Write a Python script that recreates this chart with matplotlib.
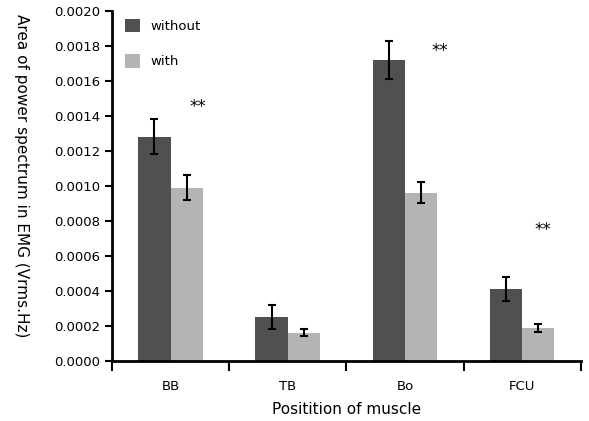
import matplotlib
matplotlib.use("Agg")
import matplotlib.pyplot as plt
import numpy as np

categories = ["BB", "TB", "Bo", "FCU"]
without_vals = [0.00128, 0.00025, 0.00172, 0.00041]
without_err = [0.00010, 0.00007, 0.00011, 0.00007]
with_vals = [0.00099, 0.00016, 0.00096, 0.00019]
with_err = [0.00007, 0.00002, 0.00006, 0.000023]
star_labels = ["**", "", "**", "**"]
star_y = [0.00145, None, 0.00177, 0.00075]
star_dx = [0.23, 0, 0.30, 0.18]
yticks = [0.0, 0.0002, 0.0004, 0.0006, 0.0008, 0.0010, 0.0012, 0.0014, 0.0016, 0.0018, 0.0020]

plt.rcParams['font.family'] = ['DejaVu Sans']
fig = plt.figure(figsize=(5.89, 4.21), dpi=100)
ax = fig.add_axes([0.190, 0.1425, 0.796, 0.832])

x = np.arange(len(categories)) + 0.5
w = 0.275
ax.bar(x - w/2, without_vals, w, color="#505050", label="without",
       yerr=without_err, error_kw=dict(ecolor="black", elinewidth=1.5, capsize=3, capthick=1.5))
ax.bar(x + w/2, with_vals, w, color="#b4b4b4", label="with",
       yerr=with_err, error_kw=dict(ecolor="black", elinewidth=1.5, capsize=3, capthick=1.5))

for xi, s, sy, dx in zip(x, star_labels, star_y, star_dx):
    if s:
        ax.text(xi + dx, sy, s, ha="center", va="center", fontsize=12)

ax.set_xlim(0, len(categories))
ax.set_ylim(0, 0.0020)
ax.set_yticks(yticks)
ax.set_yticklabels([f"{v:.4f}" for v in yticks], fontsize=9.5)
ax.set_xticks(np.arange(len(categories) + 1))
ax.set_xticklabels([])
ax.set_xticks(x, minor=True)
ax.set_xticklabels(categories, minor=True, fontsize=9.5)
ax.tick_params(axis="x", which="minor", length=0, pad=14)
ax.tick_params(axis="x", which="major", length=7, width=1.5, direction="out")
ax.tick_params(axis="y", length=5, width=1.5, direction="out")

for s in ["top", "right"]:
    ax.spines[s].set_visible(False)
for s in ["left", "bottom"]:
    ax.spines[s].set_linewidth(2)

ax.set_ylabel("Area of power spectrum in EMG (Vrms.Hz)", fontsize=11, rotation=270,
              va="center", ha="center")
ax.yaxis.set_label_coords(-0.192, 0.53)
ax.set_xlabel("Positition of muscle", fontsize=11, labelpad=6)

ax.legend(loc="upper left", frameon=False, fontsize=9.5, handlelength=1.2,
          handleheight=1.2, labelspacing=1.6, borderaxespad=0.2, bbox_to_anchor=(0.01, 1.0))

fig.savefig("out.png", dpi=100)
